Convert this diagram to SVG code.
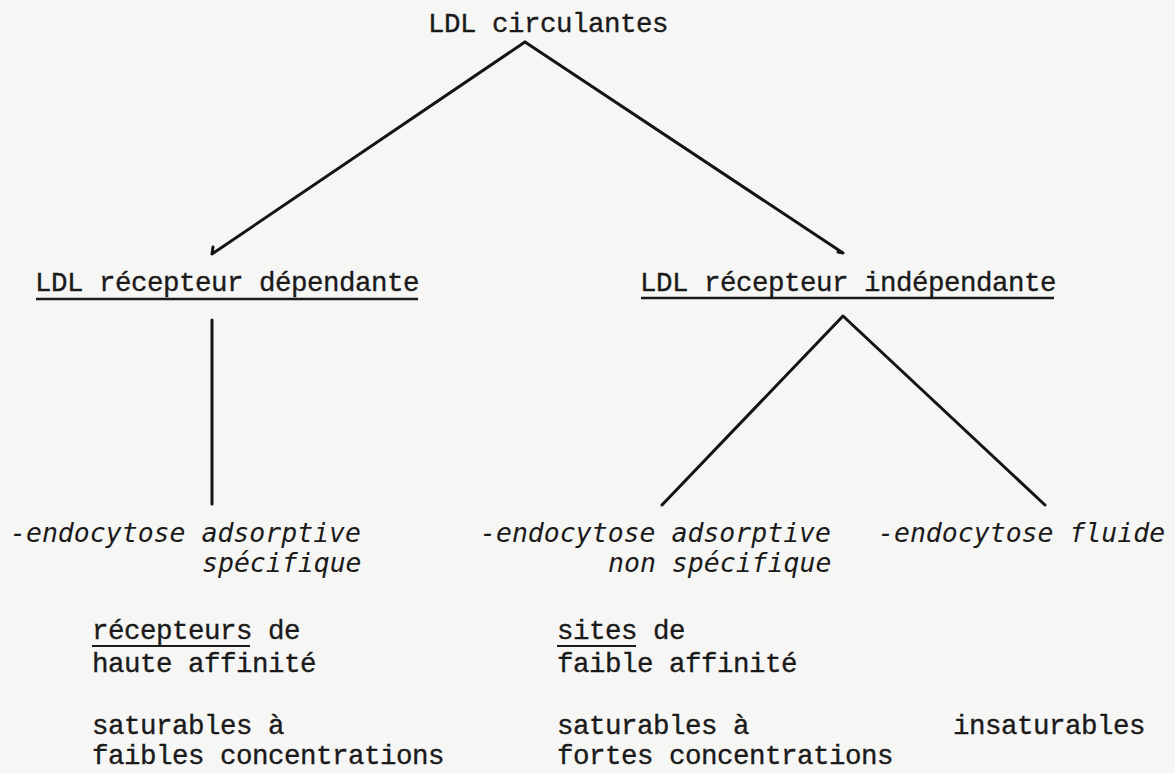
<svg xmlns="http://www.w3.org/2000/svg" width="1175" height="773" viewBox="0 0 1175 773">
<style>
.tw{font-family:"Liberation Mono","Courier New",monospace;font-size:27.5px;letter-spacing:-0.5px;fill:#1a1a1a;stroke:#1a1a1a;stroke-width:0.35}
.cur{font-family:"DejaVu Sans Mono","Liberation Mono",monospace;font-style:oblique;font-size:26.5px;fill:#1a1a1a}
.ln{stroke:#141414;stroke-width:3;fill:none;stroke-linecap:round;stroke-linejoin:round}
.ul{stroke:#1a1a1a;stroke-width:2.5;fill:none}
.ul2{stroke:#1a1a1a;stroke-width:1.8;fill:none}
</style>
<rect width="1175" height="773" fill="#f6f6f4"/>
<g id="connectors">
<path class="ln" d="M525,42 L212,254 L213,247"/>
<path class="ln" d="M525,42 L843,253 L838,252"/>
<path class="ln" d="M212,320 L212,504"/>
<path class="ln" d="M662,505 L843,316 L1045,505"/>
</g>
<g id="n-top"><text class="tw" x="428" y="32">LDL circulantes</text></g>
<g id="n-dep"><text class="tw" x="35" y="291">LDL récepteur dépendante</text><path class="ul" d="M36,299 L418,299"/></g>
<g id="n-indep"><text class="tw" x="640" y="291">LDL récepteur indépendante</text><path class="ul" d="M641,298 L1054,298"/></g>
<g id="n-eas"><text class="cur" x="10" y="542">-endocytose adsorptive</text><text class="cur" x="202" y="572">spécifique</text></g>
<g id="n-eans"><text class="cur" x="480" y="542">-endocytose adsorptive</text><text class="cur" x="608" y="572">non spécifique</text></g>
<g id="n-ef"><text class="cur" x="878" y="542">-endocytose fluide</text></g>
<g id="p-dep"><text class="tw" x="92" y="639">récepteurs de</text><path class="ul2" d="M92,646 L250,646"/><text class="tw" x="92" y="672">haute affinité</text><text class="tw" x="92" y="734">saturables à</text><text class="tw" x="92" y="764">faibles concentrations</text></g>
<g id="p-indep"><text class="tw" x="557" y="639">sites de</text><path class="ul2" d="M557,646 L636,646"/><text class="tw" x="557" y="672">faible affinité</text><text class="tw" x="557" y="734">saturables à</text><text class="tw" x="557" y="764">fortes concentrations</text></g>
<g id="p-ef"><text class="tw" x="953" y="734">insaturables</text></g>
</svg>
